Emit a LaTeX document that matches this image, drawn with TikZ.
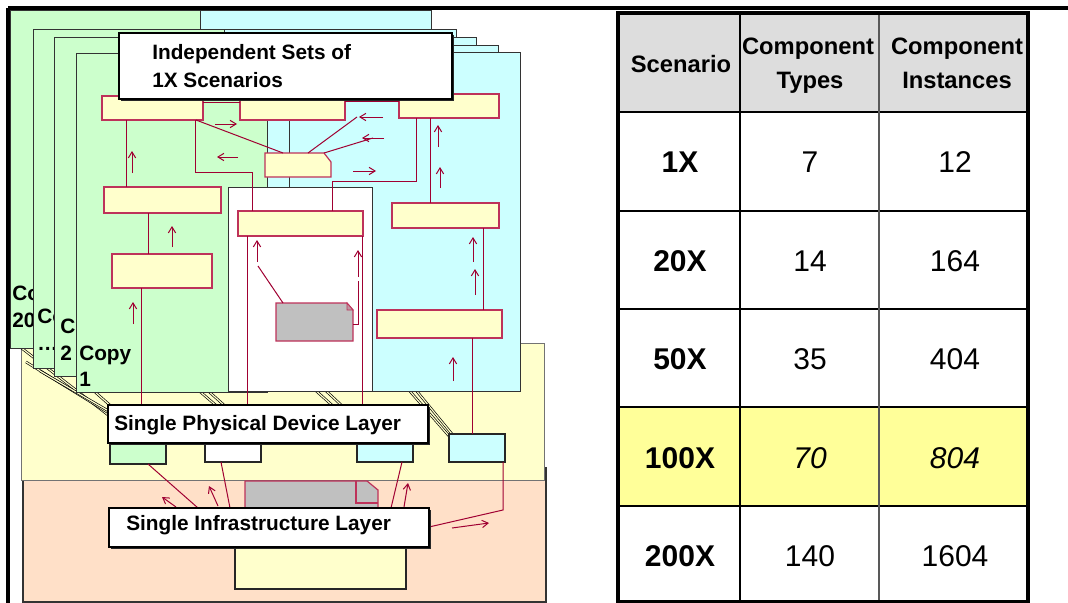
\documentclass[tikz,border=0pt]{standalone}
\usepackage{fontspec}
\setmainfont{Liberation Sans}
\usetikzlibrary{arrows.meta}
\definecolor{pgreen}{RGB}{204,255,204}
\definecolor{pcyan}{RGB}{204,255,255}
\definecolor{pyel}{RGB}{255,255,204}
\definecolor{ppeach}{RGB}{255,224,200}
\definecolor{pgray}{RGB}{192,192,192}
\definecolor{cred}{RGB}{160,0,50}
\definecolor{bred}{RGB}{190,50,90}
\definecolor{hgray}{RGB}{221,221,221}
\definecolor{hyel}{RGB}{255,255,153}
\newcommand\bx[6]{\node[#1, anchor=north west, minimum width={(#5-#3)*0.75pt}, minimum height={(#6-#4)*0.75pt}] (#2) at (#3,#4) {};}
\begin{document}
\begin{tikzpicture}[x=0.75pt,y=-0.75pt,
  pg/.style={draw=black!80, line width=0.7pt},
  cbox/.style={draw=bred, fill=pyel, line width=0.9pt, inner sep=0pt, outer sep=0pt},
  ghost/.style={inner sep=0pt, outer sep=0pt},
  dbox/.style={draw=black!85, line width=0.9pt, inner sep=0pt, outer sep=0pt},
  lbox/.style={draw=black, fill=white, line width=1pt, inner sep=0pt, outer sep=0pt},
  con/.style={draw=cred, line width=0.75pt},
  arr/.style={con, -{Straight Barb[length=4.5pt,width=5.5pt]}},
  proj/.style={draw=black, double=pyel, double distance=0.9pt, line width=0.5pt},
  lbl/.style={font=\fontsize{15.6}{18}\selectfont\bfseries, inner sep=0pt, anchor=base west},
  hd/.style={font=\fontsize{17.8}{20}\selectfont\bfseries, inner sep=0pt, anchor=base},
  dt/.style={font=\fontsize{22.5}{26}\selectfont, inner sep=0pt, anchor=base},
  dtb/.style={font=\fontsize{22.5}{26}\selectfont\bfseries, inner sep=0pt, anchor=base},
  dti/.style={font=\fontsize{22.5}{26}\selectfont\itshape, inner sep=0pt, anchor=base},
]
\useasboundingbox (0,0) rectangle (1068,603);
\fill[white] (0,0) rectangle (1068,603);

% ---------- layers ----------
\draw[fill=ppeach, draw=black!80, line width=0.8pt] (23,468) rectangle (546,602);
\draw[fill=pyel, draw=black!55, line width=0.7pt] (21,343) rectangle (544,480);
\bx{cbox, draw=black!85}{bl}{235}{530}{406}{589}
\bx{ghost}{n2}{245}{481}{378}{508}
\draw[fill=pgray, draw=bred, line width=0.9pt] (245,510) -- (245,481) -- (367,481) -- (378,490) -- (378,510);
\draw[bred, line width=0.9pt] (356,481) -- (356,503) -- (378,503);

% ---------- projection lines ----------
\draw[proj] (15,343) -- (112,418);
\draw[proj] (26,362) -- (112,415);
\draw[proj] (40,371) -- (112,413);
\draw[proj] (86,384) -- (112,407);
\draw[proj] (197,389) -- (226,414);
\draw[proj] (206,389) -- (234,414);
\draw[proj] (314,389) -- (343,415);
\draw[proj] (324,389) -- (352,415);
\draw[proj] (408,389) -- (449,436);
\draw[proj] (415,389) -- (452,434);

% ---------- stacked pages ----------
\draw[pg, fill=pgreen] (10,10) rectangle (200,348);
\draw[pg, fill=pcyan] (200,10) rectangle (431,348);
\node[lbl] (lab0a) at (12,300) {Co};
\node[lbl] (lab0b) at (12,327) {20};
\draw[pg, fill=pgreen] (33,29) rectangle (224,368);
\draw[pg, fill=pcyan] (224,29) rectangle (456,368);
\node[lbl] (lab1a) at (37,323) {Co};
\node[lbl] (lab1b) at (37,350) {…};
\draw[pg, fill=pgreen] (54,37) rectangle (245,376);
\draw[pg, fill=pcyan] (245,37) rectangle (476,376);
\node[lbl] (lab2a) at (60,333) {C};
\node[lbl] (lab2b) at (60,360) {2};
\draw[pg, fill=pcyan] (267,45) rectangle (498,384);
\draw[pg, fill=pgreen] (76,53) rectangle (267,392);
\draw[pg, fill=pcyan] (289,52) rectangle (520,391);
\draw[pg, fill=white] (228,187) rectangle (372,391);
\node[lbl] (lab4a) at (79,360) {Copy};
\node[lbl] (lab4b) at (79,386) {1};

% ---------- component boxes ----------
\bx{cbox}{b1}{102}{96}{203}{120}
\bx{cbox}{b2}{240}{98}{345}{120}
\bx{cbox}{b3}{399}{94}{499}{118}
\bx{ghost}{b4}{265}{153}{331}{177}
\draw[fill=pyel, draw=bred, line width=0.9pt] (265,153) -- (324,153) -- (331,162) -- (331,177) -- (265,177) -- cycle;
\bx{cbox}{b5}{104}{187}{221}{213}
\bx{cbox}{b6}{112}{254}{212}{288}
\bx{cbox}{b7}{238}{211}{363}{236}
\bx{cbox}{b8}{392}{203}{499}{228}
\bx{cbox}{b9}{377}{310}{502}{338}
\bx{ghost}{n1}{276}{303}{353}{341}
\draw[fill=pgray, draw=bred, line width=0.9pt] (276,303) -- (347,303) -- (353,310) -- (353,341) -- (276,341) -- cycle;
\draw[fill=pgray!70!bred, draw=bred, line width=0.6pt] (347,303) -- (347,310) -- (353,310) -- cycle;

% ---------- connectors (upper) ----------
\draw[con] (b1.south -| 126,0) -- (b5.north -| 126,0);
\draw[con] (b1.south -| 195,0) -- (195,172) -- (252,172) -- (b7.north -| 252,0);
\draw[con] (b1.south -| 196,0) -- (b4.north -| 283,0);
\draw[con] (b1.east |- 0,102) -- (b2.west |- 0,102);
\draw[con] (b2.east |- 0,101) -- (b3.west |- 0,101);
\draw[con] (b4.north -| 308,0) -- (357,117);
\draw[con] (b4.north -| 324,0) -- (373,138);
\draw[con] (b3.south -| 416,0) -- (416,181) -- (332,181) -- (b7.north -| 332,0);
\draw[con] (b3.south -| 430,0) -- (b8.north -| 430,0);
\draw[con] (b5.south -| 148,0) -- (b6.north -| 148,0);
\draw[con] (n1.north west -| 283,0) -- (258,266);
\draw[con] (n1.east |- 0,324) -- (358,324) -- (358,281);
\draw[con] (b8.south -| 483,0) -- (b9.north -| 483,0);
\draw[arr] (132,173) -- (132,151);
\draw[arr] (215,124) -- (237,124);
\draw[arr] (238,157) -- (217,157);
\draw[arr] (383,117) -- (359,117);
\draw[arr] (384,138) -- (362,138);
\draw[arr] (353,171) -- (376,171);
\draw[arr] (438,147) -- (438,125);
\draw[arr] (440,188) -- (440,167);
\draw[arr] (172,247) -- (172,226);
\draw[arr] (133,324) -- (133,302);
\draw[arr] (257,262) -- (257,240);
\draw[arr] (358,277) -- (358,250);
\draw[arr] (473,262) -- (473,237);
\draw[arr] (475,295) -- (475,269);
\draw[arr] (453,381) -- (453,357);

% ---------- device boxes ----------
\bx{dbox, fill=pgreen}{dg}{110}{443}{166}{464}
\bx{dbox, fill=white}{dw}{205}{443}{261}{462}
\bx{dbox, fill=pcyan}{dc}{357}{443}{413}{462}
\bx{dbox, fill=pcyan}{dr}{449}{434}{505}{462}
\draw[con] (b6.south -| 141,0) -- (dg.north -| 141,0);
\draw[con] (b7.south -| 247,0) -- (dw.north -| 247,0);
\draw[con] (b7.south -| 362,0) -- (dc.north -| 362,0);
\draw[con] (b9.south -| 472,0) -- (dr.north -| 472,0);

% ---------- title box ----------
\fill[black!85] (121,35) rectangle (454,101);
\bx{lbox}{title}{119}{33}{452}{99}
\node[lbl] (tt1) at (152,60) {Independent Sets of};
\node[lbl] (tt2) at (152,87) {1X Scenarios};

% ---------- physical device layer ----------
\fill[black!85] (110,407) rectangle (430,445);
\bx{lbox}{phys}{108}{405}{428}{443}
\node[lbl] (physt) at (114,430) {Single Physical Device Layer};

% ---------- infrastructure connectors ----------
\bx{ghost}{infraG}{109}{508}{429}{547}
\draw[con] (dg.south -| 148,0) -- (infraG.north -| 198,0);
\draw[con] (dw.south -| 221,0) -- (infraG.north -| 230,0);
\draw[con] (dc.south -| 402,0) -- (infraG.north -| 391,0);
\draw[con] (dr.south -| 503,0) -- (503,510) -- (infraG.east |- 0,527);
\draw[arr] (176,507) -- (162,497);
\draw[arr] (218,506) -- (209,486);
\draw[arr] (404,507) -- (408,483);
\draw[arr] (452,528) -- (489,523);

\fill[black!85] (111,510) rectangle (431,549);
\bx{lbox}{infra}{109}{508}{429}{547}
\node[lbl] (inft) at (126,530) {Single Infrastructure Layer};

% ---------- table ----------
\fill[hgray] (618,13) rectangle (1028,112);
\fill[hyel] (618,407) rectangle (1028,506);
\foreach \yy in {112,211,309,407,506} \draw[line width=1.5pt] (618,\yy) -- (1028,\yy);
\draw[line width=1.1pt] (740,13) -- (740,602);
\draw[line width=0.8pt, black!65] (879,13) -- (879,602);
\draw[line width=2.4pt] (618,13) rectangle (1028,602);

\node[hd] (h1) at (681,72) {Scenario};
\node[hd] (h2a) at (808,55) {Component};
\node[hd] (h2b) at (810,88) {Types};
\node[hd] (h3a) at (957,55) {Component};
\node[hd] (h3b) at (957,88) {Instances};

\node[dtb] (r1a) at (680,172) {1X};
\node[dt] (r1b) at (810,172) {7};
\node[dt] (r1c) at (955,172) {12};
\node[dtb] (r2a) at (680,271) {20X};
\node[dt] (r2b) at (810,271) {14};
\node[dt] (r2c) at (955,271) {164};
\node[dtb] (r3a) at (680,369) {50X};
\node[dt] (r3b) at (810,369) {35};
\node[dt] (r3c) at (955,369) {404};
\node[dtb] (r4a) at (680,468) {100X};
\node[dti] (r4b) at (810,468) {70};
\node[dti] (r4c) at (955,468) {804};
\node[dtb] (r5a) at (680,566) {200X};
\node[dt] (r5b) at (810,566) {140};
\node[dt] (r5c) at (955,566) {1604};

% ---------- frame lines ----------
\draw[line width=2.4pt] (8,8) -- (1068,8);
\draw[line width=2.4pt] (8,8) -- (8,603);
\end{tikzpicture}
\end{document}
